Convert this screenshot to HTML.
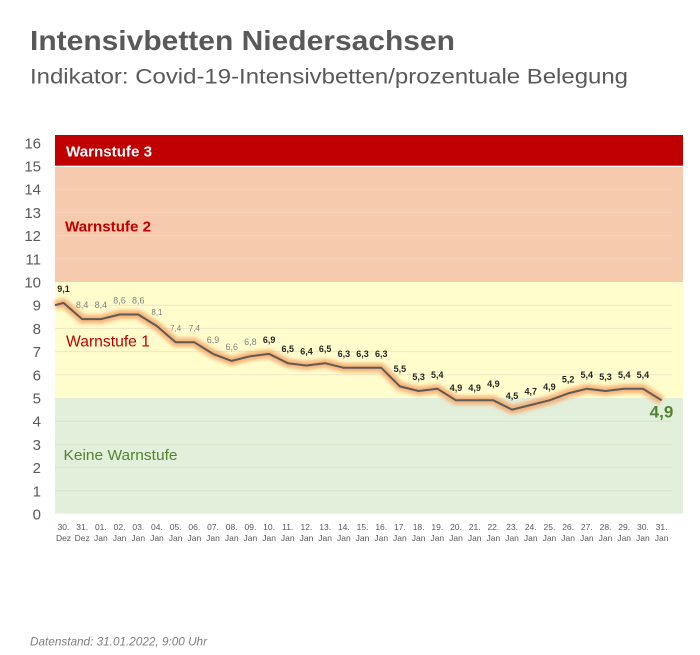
<!DOCTYPE html>
<html>
<head>
<meta charset="utf-8">
<style>
  html,body{margin:0;padding:0;background:#fff;}
  svg{display:block;}
  text{font-family:"Liberation Sans",Arial,sans-serif;}
</style>
</head>
<body>
<svg width="700" height="655" viewBox="0 0 700 655" xmlns="http://www.w3.org/2000/svg">
  <defs>
    <filter id="glow" x="-5%" y="-20%" width="110%" height="140%">
      <feGaussianBlur stdDeviation="1.8"/>
    </filter>
  </defs>
  <rect x="0" y="0" width="700" height="655" fill="#fff"/>

  <!-- Title -->
  <text x="30" y="50" font-size="28" font-weight="bold" fill="#595959" textLength="425" lengthAdjust="spacingAndGlyphs">Intensivbetten Niedersachsen</text>
  <text x="30" y="83.5" font-size="21" fill="#595959" textLength="598" lengthAdjust="spacingAndGlyphs">Indikator: Covid-19-Intensivbetten/prozentuale Belegung</text>

  <!-- Bands -->
  <rect x="55" y="135" width="628" height="30.7" fill="#c00000"/>
  <rect x="55" y="167" width="628" height="115" fill="#f6caad"/>
  <rect x="55" y="282" width="628" height="116" fill="#fffdcc"/>
  <rect x="55" y="398" width="628" height="116" fill="#e2efda"/>

  <!-- Gridlines -->
  <g stroke-width="1">
    <line x1="55" x2="672" y1="189.2" y2="189.2" stroke="#f9d6c2"/>
    <line x1="55" x2="672" y1="212.4" y2="212.4" stroke="#f9d6c2"/>
    <line x1="55" x2="672" y1="235.6" y2="235.6" stroke="#f9d6c2"/>
    <line x1="55" x2="672" y1="258.8" y2="258.8" stroke="#f9d6c2"/>
    <line x1="55" x2="672" y1="305.2" y2="305.2" stroke="#efe6c6"/>
    <line x1="55" x2="672" y1="328.4" y2="328.4" stroke="#efe6c6"/>
    <line x1="55" x2="672" y1="351.6" y2="351.6" stroke="#efe6c6"/>
    <line x1="55" x2="672" y1="374.8" y2="374.8" stroke="#efe6c6"/>
    <line x1="55" x2="672" y1="421.2" y2="421.2" stroke="#d3e4c9"/>
    <line x1="55" x2="672" y1="444.4" y2="444.4" stroke="#d3e4c9"/>
    <line x1="55" x2="672" y1="467.6" y2="467.6" stroke="#d3e4c9"/>
    <line x1="55" x2="672" y1="490.8" y2="490.8" stroke="#d3e4c9"/>
    <line x1="55" x2="683" y1="513.5" y2="513.5" stroke="#eef4ea"/>
  </g>

  <!-- Band labels -->
  <text x="66" y="156.5" font-size="15" font-weight="bold" fill="#ffffff" textLength="86" lengthAdjust="spacingAndGlyphs">Warnstufe 3</text>
  <text x="65" y="231.5" font-size="15" font-weight="bold" fill="#c00000" textLength="86" lengthAdjust="spacingAndGlyphs">Warnstufe 2</text>
  <text x="66" y="346.5" font-size="16" fill="#c00000" textLength="84" lengthAdjust="spacingAndGlyphs">Warnstufe 1</text>
  <text x="63.5" y="460" font-size="15" fill="#548235" textLength="114" lengthAdjust="spacingAndGlyphs">Keine Warnstufe</text>

  <!-- Y axis labels -->
  <g font-size="15" fill="#595959" text-anchor="end">
    <text x="41" y="148.3">16</text>
    <text x="41" y="171.5">15</text>
    <text x="41" y="194.7">14</text>
    <text x="41" y="217.9">13</text>
    <text x="41" y="241.1">12</text>
    <text x="41" y="264.3">11</text>
    <text x="41" y="287.5">10</text>
    <text x="41" y="310.7">9</text>
    <text x="41" y="333.9">8</text>
    <text x="41" y="357.1">7</text>
    <text x="41" y="380.3">6</text>
    <text x="41" y="403.5">5</text>
    <text x="41" y="426.7">4</text>
    <text x="41" y="449.9">3</text>
    <text x="41" y="473.1">2</text>
    <text x="41" y="496.3">1</text>
    <text x="41" y="519.5">0</text>
  </g>

  <!-- Series -->
  <polyline fill="none" stroke="#f4a86a" stroke-opacity="0.85" stroke-width="9" stroke-linejoin="round" filter="url(#glow)"
    points="55,305.2 63.5,302.9 82.19,319.1 100.88,319.1 119.57,314.5 138.26,314.5 156.95,326.1 175.64,342.3 194.33,342.3 213.02,353.9 231.71,360.9 250.4,356.2 269.09,353.9 287.78,363.2 306.47,365.5 325.16,363.2 343.85,367.8 362.54,367.8 381.23,367.8 399.92,386.4 418.61,391.0 437.3,388.7 455.99,400.3 474.68,400.3 493.37,400.3 512.06,409.6 530.75,405.0 549.44,400.3 568.13,393.4 586.82,388.7 605.51,391.0 624.2,388.7 642.89,388.7 661.58,400.3"/>
  <polyline fill="none" stroke="#5e5a57" stroke-width="2" stroke-linejoin="round"
    points="55,305.2 63.5,302.9 82.19,319.1 100.88,319.1 119.57,314.5 138.26,314.5 156.95,326.1 175.64,342.3 194.33,342.3 213.02,353.9 231.71,360.9 250.4,356.2 269.09,353.9 287.78,363.2 306.47,365.5 325.16,363.2 343.85,367.8 362.54,367.8 381.23,367.8 399.92,386.4 418.61,391.0 437.3,388.7 455.99,400.3 474.68,400.3 493.37,400.3 512.06,409.6 530.75,405.0 549.44,400.3 568.13,393.4 586.82,388.7 605.51,391.0 624.2,388.7 642.89,388.7 661.58,400.3"/>

  <!-- Data labels -->
  <g font-size="9" text-anchor="middle">
    <text x="63.5" y="292" fill="#262626" font-weight="bold">9,1</text>
    <g fill="#808080">
      <text x="82.19" y="308">8,4</text>
      <text x="100.88" y="308">8,4</text>
      <text x="119.57" y="303.5">8,6</text>
      <text x="138.26" y="303.5">8,6</text>
      <text x="156.95" y="315" font-size="8">8,1</text>
      <text x="175.64" y="331" font-size="8">7,4</text>
      <text x="194.33" y="331" font-size="8">7,4</text>
      <text x="213.02" y="343">6,9</text>
      <text x="231.71" y="350">6,6</text>
      <text x="250.4" y="345">6,8</text>
    </g>
    <g fill="#262626" font-weight="bold">
      <text x="269.09" y="343">6,9</text>
      <text x="287.78" y="352">6,5</text>
      <text x="306.47" y="354.5">6,4</text>
      <text x="325.16" y="352">6,5</text>
      <text x="343.85" y="357">6,3</text>
      <text x="362.54" y="357">6,3</text>
      <text x="381.23" y="357">6,3</text>
      <text x="399.92" y="372">5,5</text>
      <text x="418.61" y="380">5,3</text>
      <text x="437.3" y="378">5,4</text>
      <text x="455.99" y="391">4,9</text>
      <text x="474.68" y="391">4,9</text>
      <text x="493.37" y="387">4,9</text>
      <text x="512.06" y="399">4,5</text>
      <text x="530.75" y="394.5">4,7</text>
      <text x="549.44" y="390">4,9</text>
      <text x="568.13" y="382.5">5,2</text>
      <text x="586.82" y="378">5,4</text>
      <text x="605.51" y="380">5,3</text>
      <text x="624.2" y="378">5,4</text>
      <text x="642.89" y="378">5,4</text>
    </g>
    <text x="661.5" y="417.5" font-size="17" font-weight="bold" fill="#548235">4,9</text>
  </g>

  <!-- X axis labels -->
  <g font-size="8.5" fill="#595959" text-anchor="middle">
    <text x="63.5" y="530">30.</text><text x="63.5" y="541">Dez</text>
    <text x="82.19" y="530">31.</text><text x="82.19" y="541">Dez</text>
    <text x="100.88" y="530">01.</text><text x="100.88" y="541">Jan</text>
    <text x="119.57" y="530">02.</text><text x="119.57" y="541">Jan</text>
    <text x="138.26" y="530">03.</text><text x="138.26" y="541">Jan</text>
    <text x="156.95" y="530">04.</text><text x="156.95" y="541">Jan</text>
    <text x="175.64" y="530">05.</text><text x="175.64" y="541">Jan</text>
    <text x="194.33" y="530">06.</text><text x="194.33" y="541">Jan</text>
    <text x="213.02" y="530">07.</text><text x="213.02" y="541">Jan</text>
    <text x="231.71" y="530">08.</text><text x="231.71" y="541">Jan</text>
    <text x="250.4" y="530">09.</text><text x="250.4" y="541">Jan</text>
    <text x="269.09" y="530">10.</text><text x="269.09" y="541">Jan</text>
    <text x="287.78" y="530">11.</text><text x="287.78" y="541">Jan</text>
    <text x="306.47" y="530">12.</text><text x="306.47" y="541">Jan</text>
    <text x="325.16" y="530">13.</text><text x="325.16" y="541">Jan</text>
    <text x="343.85" y="530">14.</text><text x="343.85" y="541">Jan</text>
    <text x="362.54" y="530">15.</text><text x="362.54" y="541">Jan</text>
    <text x="381.23" y="530">16.</text><text x="381.23" y="541">Jan</text>
    <text x="399.92" y="530">17.</text><text x="399.92" y="541">Jan</text>
    <text x="418.61" y="530">18.</text><text x="418.61" y="541">Jan</text>
    <text x="437.3" y="530">19.</text><text x="437.3" y="541">Jan</text>
    <text x="455.99" y="530">20.</text><text x="455.99" y="541">Jan</text>
    <text x="474.68" y="530">21.</text><text x="474.68" y="541">Jan</text>
    <text x="493.37" y="530">22.</text><text x="493.37" y="541">Jan</text>
    <text x="512.06" y="530">23.</text><text x="512.06" y="541">Jan</text>
    <text x="530.75" y="530">24.</text><text x="530.75" y="541">Jan</text>
    <text x="549.44" y="530">25.</text><text x="549.44" y="541">Jan</text>
    <text x="568.13" y="530">26.</text><text x="568.13" y="541">Jan</text>
    <text x="586.82" y="530">27.</text><text x="586.82" y="541">Jan</text>
    <text x="605.51" y="530">28.</text><text x="605.51" y="541">Jan</text>
    <text x="624.2" y="530">29.</text><text x="624.2" y="541">Jan</text>
    <text x="642.89" y="530">30.</text><text x="642.89" y="541">Jan</text>
    <text x="661.58" y="530">31.</text><text x="661.58" y="541">Jan</text>
  </g>

  <!-- Footer -->
  <text x="30" y="645.5" font-size="12" font-style="italic" fill="#7f7f7f" textLength="177" lengthAdjust="spacingAndGlyphs">Datenstand: 31.01.2022, 9:00 Uhr</text>
</svg>
</body>
</html>
